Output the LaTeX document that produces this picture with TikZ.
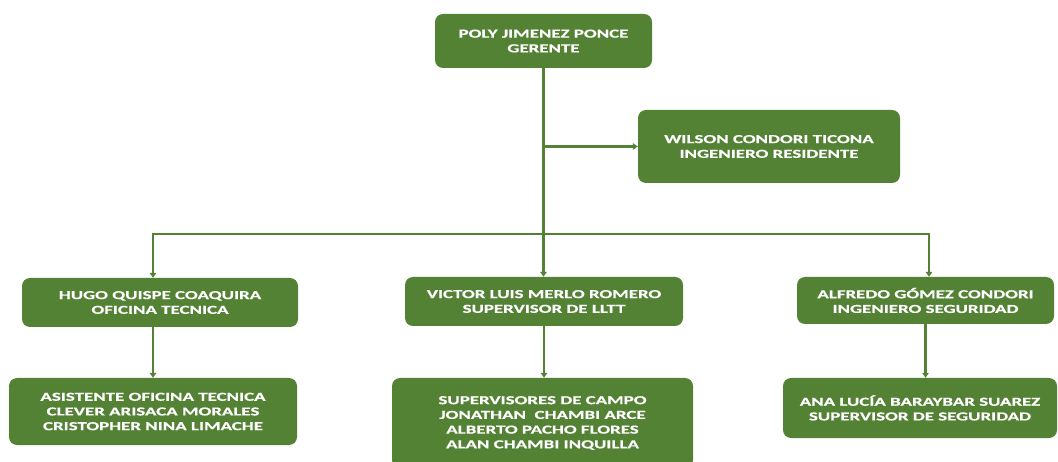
\documentclass[tikz,border=0pt]{standalone}
\usepackage{fontspec}
\newfontfamily\boxfont{Carlito}[FakeStretch=1.55,BoldFeatures={FakeBold=0.5}]
\usetikzlibrary{arrows.meta,calc}
\definecolor{orggreen}{RGB}{84,130,53}
\begin{document}
\begin{tikzpicture}[x=1pt,y=-1pt,
  box/.style={draw=none,fill=orggreen,rounded corners=8pt,inner sep=0pt,
    text=white,align=center,
    font=\boxfont\bfseries\fontsize{12.2}{14.7}\selectfont},
  link/.style={draw=orggreen,line width=2.4pt},
  arr/.style={link,-{Triangle[length=5pt,width=6.5pt]}}]
\useasboundingbox (0,0) rectangle (1058,462);
\begin{scope}
\clip (0,0) rectangle (1058,462);
\node[box,minimum width=217pt,minimum height=54pt] (ger) at (543.5,41) {POLY JIMENEZ PONCE\\GERENTE};
\node[box,minimum width=262pt,minimum height=73pt] (wil) at (769,146.5) {WILSON CONDORI TICONA\\INGENIERO RESIDENTE};
\node[box,minimum width=276pt,minimum height=49pt] (hugo) at (160,302.5) {HUGO QUISPE COAQUIRA\\OFICINA TECNICA};
\node[box,minimum width=278pt,minimum height=49pt] (vic) at (544,301.5) {VICTOR LUIS MERLO ROMERO\\SUPERVISOR DE LLTT};
\node[box,minimum width=257pt,minimum height=47pt] (alf) at (925.5,300.5) {ALFREDO GÓMEZ CONDORI\\INGENIERO SEGURIDAD};
\node[box,minimum width=288pt,minimum height=67pt] (asis) at (153,411.5) {ASISTENTE OFICINA TECNICA\\CLEVER ARISACA MORALES\\CRISTOPHER NINA LIMACHE};
\node[box,minimum width=301pt,minimum height=90pt] (sup) at (542.5,423) {SUPERVISORES DE CAMPO\\JONATHAN\ \ CHAMBI ARCE\\ALBERTO PACHO FLORES\\ALAN CHAMBI INQUILLA};
\node[box,minimum width=274pt,minimum height=60pt] (ana) at (920,408) {ANA LUCÍA BARAYBAR SUAREZ\\SUPERVISOR DE SEGURIDAD};
\end{scope}
\coordinate (busL) at (153,234);
\coordinate (busR) at (929,234);
\draw[arr] (ger.south) -- (ger.south |- vic.north);
\draw[arr] (ger.south |- wil.west) -- (wil.west);
\draw[link] ([xshift=-1.2pt]busL) -- ([xshift=1.2pt]busR);
\draw[arr] (busL) -- (busL |- hugo.north);
\draw[arr] (busR) -- (busR |- alf.north);
\draw[arr] (asis.north |- hugo.south) -- (asis.north);
\draw[arr] (vic.south) -- (vic.south |- sup.north);
\draw[arr] (alf.south) -- (alf.south |- ana.north);
\end{tikzpicture}
\end{document}
